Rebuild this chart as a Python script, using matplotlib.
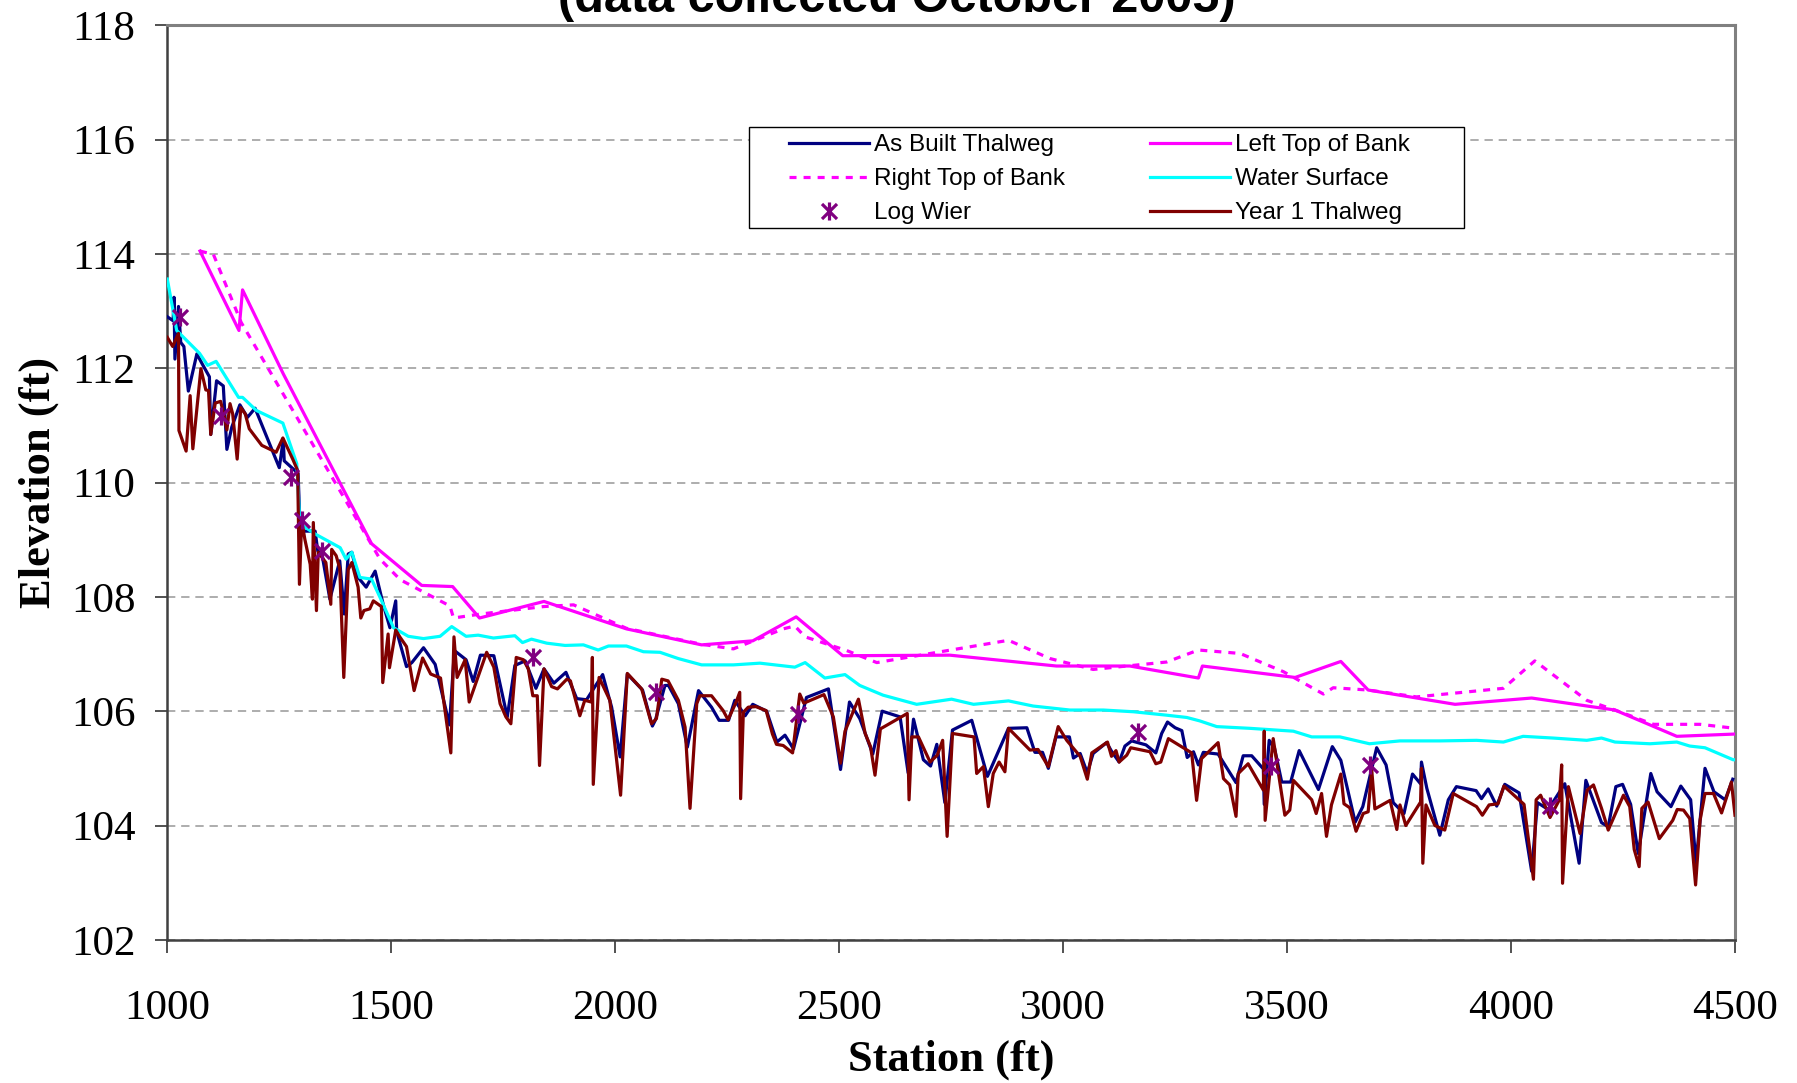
import matplotlib
matplotlib.use("Agg")
import matplotlib.pyplot as plt
from matplotlib.path import Path
from matplotlib.patches import Rectangle

# ---------------- data ----------------
as_built_station = [1000, 1013, 1015, 1017, 1025, 1030, 1037, 1047, 1066, 1079, 1094, 1097, 1110, 1125,
                    1133, 1144, 1162, 1179, 1196, 1250, 1259, 1261, 1292, 1296, 1300, 1330, 1336, 1345,
                    1363, 1385, 1395, 1404, 1412, 1426, 1444, 1464, 1482, 1497, 1510, 1512, 1534, 1546,
                    1572, 1598, 1630, 1641, 1667, 1683, 1699, 1729, 1759, 1776, 1799, 1823, 1841, 1863,
                    1890, 1914, 1936, 1972, 1992, 2011, 2027, 2061, 2083, 2090, 2111, 2119, 2141, 2161,
                    2186, 2215, 2232, 2253, 2267, 2290, 2307, 2338, 2361, 2379, 2398, 2427, 2476, 2503,
                    2523, 2546, 2575, 2596, 2636, 2654, 2666, 2688, 2704, 2718, 2736, 2753, 2796, 2831,
                    2878, 2919, 2937, 2954, 2967, 2984, 3014, 3023, 3038, 3054, 3067, 3097, 3108, 3125,
                    3138, 3153, 3185, 3207, 3220, 3233, 3250, 3265, 3277, 3291, 3302, 3313, 3346, 3386,
                    3402, 3421, 3447, 3449, 3460, 3472, 3488, 3508, 3527, 3570, 3601, 3620, 3652, 3669,
                    3700, 3721, 3737, 3761, 3780, 3798, 3800, 3812, 3841, 3860, 3878, 3922, 3934, 3949,
                    3968, 3986, 4018, 4046, 4059, 4083, 4120, 4152, 4167, 4202, 4217, 4234, 4249, 4267,
                    4284, 4312, 4326, 4357, 4379, 4401, 4413, 4433, 4453, 4478, 4495]
as_built_elev = [112.9, 112.83, 113.24, 112.16, 113.08, 112.45, 112.38, 111.6, 112.25, 112.06, 111.85, 110.84,
                 111.78, 111.69, 110.58, 110.97, 111.36, 111.14, 111.3, 110.26, 110.75, 110.38, 110.16, 109.3,
                 109.15, 109.15, 108.8, 108.76, 107.96, 108.63, 107.7, 108.75, 108.78, 108.34, 108.17, 108.45,
                 107.87, 107.46, 107.93, 107.4, 106.78, 106.85, 107.11, 106.82, 105.76, 107.06, 106.9, 106.52,
                 106.98, 106.97, 105.9, 106.8, 106.88, 106.4, 106.74, 106.49, 106.68, 106.22, 106.2, 106.64,
                 106.07, 105.2, 106.65, 106.37, 105.74, 105.85, 106.45, 106.45, 106.13, 105.37, 106.36, 106.07,
                 105.84, 105.84, 106.19, 105.92, 106.12, 106.0, 105.46, 105.58, 105.34, 106.24, 106.39, 104.98,
                 106.16, 105.87, 105.25, 106.0, 105.9, 104.92, 105.86, 105.15, 105.04, 105.42, 104.4, 105.67,
                 105.84, 104.86, 105.7, 105.71, 105.28, 105.28, 105.0, 105.55, 105.55, 105.18, 105.26, 104.92,
                 105.26, 105.45, 105.3, 105.11, 105.39, 105.48, 105.41, 105.27, 105.61, 105.81, 105.71, 105.66,
                 105.19, 105.29, 105.06, 105.28, 105.25, 104.75, 105.22, 105.22, 104.99, 104.37, 105.49, 105.35,
                 104.76, 104.76, 105.31, 104.63, 105.38, 105.14, 104.06, 104.33, 105.36, 105.06, 104.4, 104.21,
                 104.9, 104.73, 105.11, 104.65, 103.83, 104.45, 104.68, 104.61, 104.47, 104.64, 104.34, 104.72,
                 104.57, 103.2, 104.4, 104.28, 104.73, 103.34, 104.79, 104.05, 103.98, 104.68, 104.72, 104.37,
                 103.51, 104.91, 104.59, 104.33, 104.69, 104.45, 103.34, 105.0, 104.59, 104.45, 104.81]

year1_station = [1000, 1012, 1025, 1026, 1042, 1051, 1057, 1075, 1086, 1092, 1097, 1107, 1119, 1126, 1133,
                 1140, 1146, 1156, 1164, 1174, 1183, 1211, 1243, 1258, 1280, 1291, 1295, 1300, 1307, 1319,
                 1324, 1326, 1333, 1337, 1354, 1365, 1367, 1377, 1385, 1394, 1404, 1412, 1426, 1432, 1439,
                 1452, 1460, 1478, 1481, 1493, 1496, 1510, 1519, 1534, 1551, 1570, 1588, 1610, 1633, 1640,
                 1647, 1665, 1674, 1713, 1729, 1743, 1756, 1767, 1779, 1795, 1806, 1816, 1826, 1831, 1841,
                 1858, 1871, 1892, 1900, 1921, 1932, 1947, 1949, 1951, 1964, 1988, 2012, 2027, 2059, 2081,
                 2092, 2104, 2118, 2141, 2156, 2167, 2182, 2189, 2215, 2241, 2252, 2270, 2278, 2280, 2286,
                 2297, 2314, 2337, 2351, 2360, 2375, 2396, 2412, 2421, 2466, 2487, 2503, 2513, 2543, 2558,
                 2570, 2580, 2592, 2652, 2656, 2662, 2677, 2703, 2719, 2731, 2741, 2753, 2801, 2807, 2822,
                 2833, 2844, 2857, 2870, 2878, 2926, 2944, 2967, 2989, 3008, 3038, 3054, 3064, 3099, 3108,
                 3118, 3125, 3142, 3151, 3194, 3207, 3218, 3235, 3287, 3298, 3309, 3346, 3358, 3372, 3386,
                 3391, 3413, 3447, 3449, 3451, 3469, 3495, 3506, 3514, 3555, 3565, 3577, 3588, 3599, 3620,
                 3627, 3640, 3654, 3670, 3681, 3689, 3696, 3730, 3745, 3752, 3765, 3782, 3798, 3800, 3803,
                 3810, 3830, 3852, 3871, 3923, 3936, 3951, 3971, 3984, 4029, 4050, 4056, 4066, 4087, 4108,
                 4113, 4115, 4128, 4154, 4170, 4184, 4202, 4217, 4251, 4265, 4275, 4286, 4292, 4306, 4331,
                 4361, 4371, 4385, 4399, 4412, 4422, 4433, 4452, 4470, 4492, 4500]
year1_elev = [112.54, 112.38, 112.61, 110.91, 110.55, 111.52, 110.59, 111.99, 111.62, 111.61, 110.84, 111.39,
              111.42, 111.2, 110.92, 111.38, 111.2, 110.41, 111.31, 111.2, 110.94, 110.65, 110.53, 110.78,
              110.41, 110.21, 108.22, 109.34, 109.01, 108.57, 107.96, 109.3, 107.76, 108.78, 108.6, 107.87,
              108.83, 108.72, 108.5, 106.59, 108.48, 108.6, 108.17, 107.63, 107.76, 107.79, 107.93, 107.83,
              106.5, 107.35, 106.76, 107.42, 107.3, 107.13, 106.36, 106.93, 106.65, 106.58, 105.27, 107.3,
              106.59, 106.9, 106.16, 107.03, 106.77, 106.13, 105.9, 105.78, 106.94, 106.9, 106.74, 106.27,
              106.27, 105.05, 106.74, 106.43, 106.39, 106.56, 106.53, 105.92, 106.19, 106.16, 106.94, 104.72,
              106.59, 106.19, 104.53, 106.66, 106.39, 105.78, 105.87, 106.56, 106.53, 106.19, 105.72, 104.3,
              106.13, 106.27, 106.27, 106.01, 105.85, 106.16, 106.33, 104.47, 105.98, 106.07, 106.08, 106.01,
              105.6, 105.42, 105.4, 105.27, 106.3, 106.14, 106.29, 105.9, 105.09, 105.65, 106.21, 105.61,
              105.38, 104.88, 105.69, 105.96, 104.45, 105.55, 105.55, 105.11, 105.23, 105.49, 103.81, 105.61,
              105.55, 104.91, 105.03, 104.33, 104.91, 105.11, 104.94, 105.7, 105.32, 105.33, 105.03, 105.73,
              105.49, 105.21, 104.81, 105.27, 105.46, 105.21, 105.31, 105.11, 105.23, 105.36, 105.29, 105.08,
              105.11, 105.52, 105.27, 104.44, 105.17, 105.45, 104.82, 104.71, 104.16, 104.91, 105.08, 104.62,
              105.65, 104.09, 105.52, 104.18, 104.27, 104.79, 104.45, 104.21, 104.56, 103.81, 104.36, 104.9,
              104.38, 104.31, 103.9, 104.21, 104.24, 104.97, 104.29, 104.44, 103.93, 104.36, 104.0, 104.21,
              104.41, 105.0, 103.34, 104.36, 104.0, 103.92, 104.56, 104.33, 104.18, 104.36, 104.38, 104.69,
              104.37, 103.06, 104.45, 104.53, 104.14, 104.45, 105.06, 102.99, 104.68, 103.86, 104.62, 104.71,
              104.3, 103.92, 104.53, 104.33, 103.58, 103.28, 104.3, 104.41, 103.77, 104.09, 104.28, 104.27,
              104.12, 102.96, 104.09, 104.56, 104.56, 104.22, 104.76, 104.18]

left_bank_station = [1073, 1160, 1168, 1259, 1456, 1568, 1637, 1697, 1841, 2025, 2193, 2307, 2404, 2508,
                     2747, 2985, 3149, 3302, 3311, 3518, 3620, 3681, 3875, 4046, 4232, 4370, 4500]
left_bank_elev = [114.05, 112.66, 113.37, 111.9, 108.93, 108.2, 108.18, 107.63, 107.92, 107.44, 107.16,
                  107.23, 107.65, 106.97, 106.98, 106.79, 106.79, 106.58, 106.79, 106.59, 106.87, 106.37,
                  106.12, 106.23, 106.02, 105.56, 105.6]

right_bank_station = [1073, 1103, 1165, 1475, 1520, 1631, 1639, 1700, 1840, 1907, 2025, 2193, 2264, 2375,
                      2401, 2424, 2517, 2584, 2651, 2878, 2971, 3067, 3142, 3231, 3302, 3395, 3492, 3581,
                      3603, 3681, 3789, 3983, 4053, 4169, 4232, 4318, 4422, 4500]
right_bank_elev = [114.05, 113.99, 112.8, 108.66, 108.3, 107.84, 107.63, 107.7, 107.83, 107.86, 107.45,
                   107.17, 107.09, 107.44, 107.49, 107.3, 107.06, 106.85, 106.94, 107.24, 106.92, 106.73,
                   106.79, 106.86, 107.07, 107.01, 106.69, 106.3, 106.41, 106.37, 106.25, 106.4, 106.88,
                   106.19, 106.02, 105.77, 105.77, 105.7]

water_station = [1000, 1021, 1072, 1090, 1109, 1159, 1168, 1199, 1258, 1289, 1296, 1330, 1386, 1399, 1412,
                 1430, 1456, 1475, 1505, 1538, 1572, 1609, 1635, 1667, 1694, 1728, 1776, 1793, 1813, 1847,
                 1888, 1929, 1962, 1985, 2025, 2063, 2100, 2141, 2193, 2264, 2323, 2401, 2424, 2468, 2513,
                 2546, 2598, 2673, 2751, 2800, 2878, 2933, 3015, 3090, 3157, 3231, 3276, 3305, 3343, 3417,
                 3514, 3555, 3618, 3684, 3752, 3841, 3923, 3983, 4027, 4094, 4169, 4202, 4232, 4310, 4370,
                 4399, 4433, 4496, 4500]
water_elev = [113.56, 112.66, 112.26, 112.05, 112.12, 111.49, 111.49, 111.26, 111.04, 110.33, 109.28, 109.1,
              108.86, 108.66, 108.78, 108.34, 108.31, 107.99, 107.46, 107.31, 107.27, 107.31, 107.48, 107.31,
              107.33, 107.28, 107.32, 107.2, 107.26, 107.19, 107.15, 107.16, 107.07, 107.14, 107.14, 107.04,
              107.03, 106.92, 106.81, 106.81, 106.84, 106.77, 106.85, 106.58, 106.64, 106.45, 106.28, 106.12,
              106.21, 106.12, 106.18, 106.09, 106.02, 106.02, 105.99, 105.93, 105.89, 105.83, 105.73, 105.7,
              105.65, 105.55, 105.55, 105.43, 105.48, 105.48, 105.49, 105.46, 105.56, 105.53, 105.49, 105.53,
              105.46, 105.43, 105.46, 105.39, 105.36, 105.15, 105.15]

weir_station = [1028, 1121, 1276, 1300, 1346, 1817, 2092, 2409, 3168, 3465, 3686, 4087]
weir_elev = [112.9, 111.17, 110.1, 109.34, 108.8, 106.94, 106.34, 105.95, 105.64, 105.04, 105.05, 104.34]

x_ticks = [1000, 1500, 2000, 2500, 3000, 3500, 4000, 4500]
y_ticks = [102, 104, 106, 108, 110, 112, 114, 116, 118]

# ---------------- figure ----------------
serif = "Liberation Serif"
sans = "Liberation Sans"

fig = plt.figure(figsize=(17.97, 10.83), dpi=100)
ax = fig.add_axes([0.0931, 0.1322, 0.8724, 0.8445])

lw = 2.3
star = Path([(-1, -1), (1, 1), (-1, 1), (1, -1), (0, -1.2), (0, 1.2)],
            [Path.MOVETO, Path.LINETO, Path.MOVETO, Path.LINETO, Path.MOVETO, Path.LINETO])

h_ab, = ax.plot(as_built_station, as_built_elev, color="#000080", lw=lw, label="As Built Thalweg", zorder=3)
h_lb, = ax.plot(left_bank_station, left_bank_elev, color="#FF00FF", lw=lw, label="Left Top of Bank", zorder=3)
h_rb, = ax.plot(right_bank_station, right_bank_elev, color="#FF00FF", lw=lw, ls=(0, (2.2, 2.2)),
                label="Right Top of Bank", zorder=3)
h_ws, = ax.plot(water_station, water_elev, color="#00FFFF", lw=lw, label="Water Surface", zorder=3)
h_y1, = ax.plot(year1_station, year1_elev, color="#800000", lw=lw, label="Year 1 Thalweg", zorder=4)
h_lw, = ax.plot(weir_station, weir_elev, ls="none", marker=star, markersize=13, mew=2.3,
                color="#800080", label="Log Wier", zorder=5)

ax.set_xlim(1000, 4500)
ax.set_ylim(102, 118)
ax.set_xticks(x_ticks)
ax.set_yticks(y_ticks)
ax.set_xticklabels([str(v) for v in x_ticks], fontfamily=serif, fontsize=31)
ax.set_yticklabels([str(v) for v in y_ticks], fontfamily=serif, fontsize=31)
ax.tick_params(axis="x", direction="out", length=9, width=1.2, color="#333333", pad=26.5)
ax.tick_params(axis="y", direction="out", length=9, width=1.2, color="#333333", pad=14)

ax.yaxis.grid(True, color="#A0A0A0", lw=1.2, ls=(0, (5, 3.5)))
ax.set_axisbelow(True)

for side in ("top", "right"):
    ax.spines[side].set_color("#808080")
    ax.spines[side].set_linewidth(2.2)
for side in ("left", "bottom"):
    ax.spines[side].set_color("#404040")
    ax.spines[side].set_linewidth(1.8)

ax.set_xlabel("Station (ft)", fontfamily=serif, fontsize=32, fontweight="bold")
ax.set_ylabel("Elevation (ft)", fontfamily=serif, fontsize=32, fontweight="bold")
ax.xaxis.label.set_va("center")
ax.yaxis.label.set_va("center")
ax.xaxis.set_label_coords(0.5, -0.131)
ax.yaxis.set_label_coords(-0.0822, 0.5)

fig.text(0.499, 0.989, "(data collected October 2005)", fontfamily=sans, fontsize=35,
         fontweight="bold", ha="center", va="baseline")

# legend frame (drawn as a box in axes coordinates) and legend entries
ax.add_patch(Rectangle((0.371, 0.778), 0.456, 0.111, transform=ax.transAxes,
                       facecolor="white", edgecolor="black", lw=1.0, zorder=6))
leg = ax.legend(handles=[h_ab, h_rb, h_lw, h_lb, h_ws, h_y1], ncol=2,
                loc="upper left", bbox_to_anchor=(0.3918, 0.889),
                prop={"family": sans, "size": 17.5}, frameon=False,
                handlelength=3.3, handletextpad=0.2, columnspacing=3.5, labelspacing=0.5,
                borderpad=0.3, borderaxespad=0.0)
leg.set_zorder(7)

fig.savefig("out.png", dpi=100, facecolor="white")
